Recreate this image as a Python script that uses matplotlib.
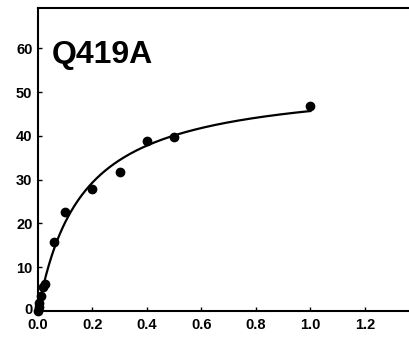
import numpy as np
import matplotlib.pyplot as plt
import matplotlib.transforms as mtransforms

plt.rcParams['font.family'] = ['Liberation Sans', 'DejaVu Sans']

# substrate concentration and measured rate
conc = [0.0, 0.002, 0.005, 0.01, 0.02, 0.025, 0.06, 0.10, 0.20, 0.30, 0.40, 0.50, 1.00]
rate = [0.0, 0.8, 1.8, 3.5, 5.5, 6.2, 15.8, 22.5, 27.8, 31.7, 38.9, 39.8, 46.8]

xticks = [0.0, 0.2, 0.4, 0.6, 0.8, 1.0, 1.2]
yticks = [0, 10, 20, 30, 40, 50, 60]
label = "Q419A"

x = np.array(conc)
y = np.array(rate)

# Michaelis-Menten fit: scan Km, Vmax by least squares for each
best = None
for km in np.linspace(0.01, 1.0, 2000):
    f = x / (km + x)
    vmax = (f @ y) / (f @ f)
    err = np.sum((vmax * f - y) ** 2)
    if best is None or err < best[0]:
        best = (err, km, vmax)
_, km, vmax = best
xs = np.linspace(0, 1.0, 300)
ys = vmax * xs / (km + xs)

fig = plt.figure(figsize=(4.1, 3.41), dpi=100)
ax = fig.add_axes([38 / 410, 30 / 341, 0.93, 303 / 341])

ax.plot(xs, ys, "-k", lw=1.6)
ax.plot(x, y, "o", color="k", ms=6, clip_on=False, zorder=3)

ax.set_xlim(0, 1.4)
ax.set_ylim(0, 69.2)
ax.set_xticks(xticks)
ax.set_yticks(yticks)
ax.set_xticklabels(["%.1f" % t for t in xticks])
ax.tick_params(direction="in", length=3, width=1, labelsize=10.5)
ax.tick_params(axis="x", pad=5)
ax.tick_params(axis="y", pad=4)
for t in ax.get_xticklabels() + ax.get_yticklabels():
    t.set_fontweight("bold")
for s in ax.spines.values():
    s.set_linewidth(1.5)

# lift the y "0" a little so it clears the "0.0" below it
zero = ax.get_yticklabels()[0]
zero.set_transform(zero.get_transform() +
                   mtransforms.ScaledTranslation(0, 2 / 72, fig.dpi_scale_trans))

ax.text(52 / 410, 1 - 55 / 341, label, transform=fig.transFigure, fontsize=23,
        fontweight="bold", va="center", ha="left")

fig.savefig("out.png", dpi=100)
